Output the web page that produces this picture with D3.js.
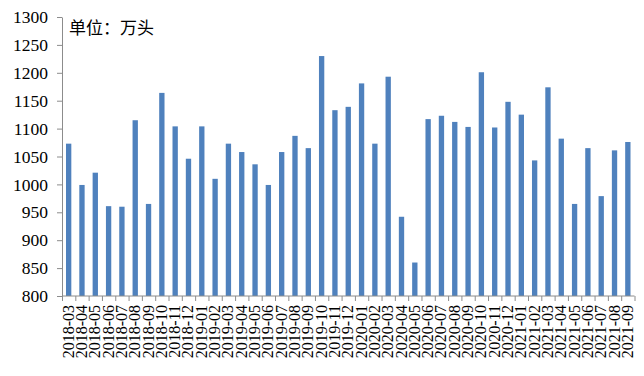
<!DOCTYPE html>
<html>
<head>
<meta charset="utf-8">
<script src="https://cdn.jsdelivr.net/npm/d3@7"></script>
<style>
  body { margin: 0; background: #fff; }
</style>
</head>
<body>
<div id="chart"></div>
<script>
// months 2018-03 .. 2021-09
const months = [
  '2018-03', '2018-04', '2018-05', '2018-06', '2018-07', '2018-08', '2018-09', '2018-10', '2018-11', '2018-12',
  '2019-01', '2019-02', '2019-03', '2019-04', '2019-05', '2019-06', '2019-07', '2019-08', '2019-09', '2019-10', '2019-11', '2019-12',
  '2020-01', '2020-02', '2020-03', '2020-04', '2020-05', '2020-06', '2020-07', '2020-08', '2020-09', '2020-10', '2020-11', '2020-12',
  '2021-01', '2021-02', '2021-03', '2021-04', '2021-05', '2021-06', '2021-07', '2021-08', '2021-09',
];
const values = [
  1073, 999, 1021, 961, 960, 1115, 965, 1164, 1104, 1046,
  1104, 1010, 1073, 1058, 1036, 999, 1058, 1087, 1065, 1230, 1133, 1139,
  1181, 1073, 1193, 942, 860, 1117, 1123, 1112, 1103, 1201, 1102, 1148,
  1125, 1043, 1174, 1082, 965, 1065, 979, 1061, 1076,
];
const yTicks = [800, 850, 900, 950, 1000, 1050, 1100, 1150, 1200, 1250, 1300];
const unitLabel = '单位：万头';

const size = { width: 644, height: 376 };
const margin = { top: 17, right: 10, bottom: 80, left: 62 };

const svg = d3.select('#chart').append('svg')
  .attr('width', size.width)
  .attr('height', size.height);

const x = d3.scaleBand()
  .domain(months)
  .range([margin.left, 634.5])
  .paddingInner(0.6)
  .paddingOuter(0.3);

const y = d3.scaleLinear()
  .domain([800, 1300])
  .range([296, margin.top]);

const axisColor = '#8c8c8c';
const serif = "'Liberation Serif', 'DejaVu Serif', 'Times New Roman', Times, serif";

svg.append('g')
  .selectAll('rect')
  .data(values)
  .enter()
  .append('rect')
  .attr('x', (d, i) => x(months[i]))
  .attr('y', (d) => y(d))
  .attr('width', x.bandwidth())
  .attr('height', (d) => y(800) - y(d))
  .attr('fill', '#4F81BD');

// y axis
const yAxis = svg.append('g')
  .attr('transform', `translate(${margin.left},0)`)
  .call(d3.axisLeft(y).tickValues(yTicks).tickFormat(d3.format('d'))
    .tickSize(5).tickPadding(9).tickSizeOuter(0));
yAxis.attr('font-family', null).attr('font-size', null);
yAxis.select('.domain').attr('stroke', axisColor);
yAxis.selectAll('.tick line').attr('stroke', axisColor);
yAxis.selectAll('text')
  .attr('fill', '#000')
  .style('font-family', serif)
  .style('font-size', '17.5px');

// x axis: ticks between categories
const xAxisG = svg.append('g')
  .attr('transform', `translate(0,${y(800)})`);
xAxisG.append('line')
  .attr('x1', margin.left).attr('x2', 634.5)
  .attr('stroke', axisColor);
const step = x.step();
xAxisG.selectAll('line.tk')
  .data(d3.range(months.length + 1))
  .enter()
  .append('line')
  .attr('class', 'tk')
  .attr('x1', (i) => margin.left + i * step + 0.5)
  .attr('x2', (i) => margin.left + i * step + 0.5)
  .attr('y1', 0).attr('y2', 5)
  .attr('stroke', axisColor);
xAxisG.selectAll('text')
  .data(months)
  .enter()
  .append('text')
  .attr('transform', (d) => `translate(${x(d) + x.bandwidth() / 2 + 5},9) rotate(-90)`)
  .attr('text-anchor', 'end')
  .style('font-family', serif)
  .style('font-size', '16px')
  .text((d) => d);

svg.append('text')
  .attr('x', 69)
  .attr('y', 34)
  .style('font-family', "'Noto Sans CJK SC', sans-serif")
  .style('font-size', '17px')
  .text(unitLabel);
</script>
</body>
</html>
